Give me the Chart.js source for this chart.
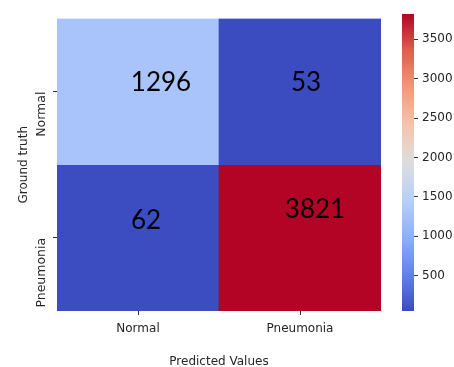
<!DOCTYPE html>
<html>
<head>
<meta charset="utf-8">
<script src="https://cdn.jsdelivr.net/npm/chart.js"></script>
<style>
  html, body { margin: 0; padding: 0; background: #fff; }
  #wrap { position: relative; width: 454px; height: 367px; overflow: hidden; }
  #heat { position: absolute; left: 0; top: 0; }
  #cbar { position: absolute; left: 390px; top: 0; }
</style>
</head>
<body>
<div id="wrap">
  <canvas id="heat" width="390" height="367"></canvas>
  <canvas id="cbar" width="64" height="367"></canvas>
</div>
<script>
// confusion matrix: rows = ground truth, columns = predicted
var classes = ['Normal', 'Pneumonia'];
var rowNormal = [1296, 53];
var rowPneumonia = [62, 3821];
var colorbarTicks = [500, 1000, 1500, 2000, 2500, 3000, 3500];

var rows = [rowNormal, rowPneumonia];
var vmin = Math.min.apply(null, rowNormal.concat(rowPneumonia));
var vmax = Math.max.apply(null, rowNormal.concat(rowPneumonia));

// coolwarm colormap, sampled stops
var COOLWARM = [
  [0.000, [59, 76, 192]],
  [0.125, [98, 130, 234]],
  [0.250, [141, 176, 254]],
  [0.375, [184, 208, 249]],
  [0.500, [221, 221, 221]],
  [0.625, [245, 196, 173]],
  [0.750, [244, 154, 123]],
  [0.875, [222, 96, 77]],
  [1.000, [180, 4, 38]]
];

function rgb(c) { return 'rgb(' + c.map(Math.round).join(',') + ')'; }

function coolwarm(t) {
  t = Math.max(0, Math.min(1, t));
  for (var i = 1; i < COOLWARM.length; i++) {
    if (t <= COOLWARM[i][0]) {
      var a = COOLWARM[i - 1], b = COOLWARM[i];
      var f = (t - a[0]) / (b[0] - a[0]);
      return rgb([0, 1, 2].map(function(k) { return a[1][k] + (b[1][k] - a[1][k]) * f; }));
    }
  }
  return rgb(COOLWARM[COOLWARM.length - 1][1]);
}

function colorFor(v) { return coolwarm((v - vmin) / (vmax - vmin)); }

var TICK_COLOR = '#333';
var TEXT_COLOR = '#262626';
var tickFont = { family: 'DejaVu Sans', size: 12 };

// each row is a dataset of floating bars spanning [row, row + 1] on a reversed y axis
var datasets = rows.map(function(vals, r) {
  return {
    label: classes[r],
    data: vals.map(function() { return [r, r + 1]; }),
    values: vals,
    backgroundColor: vals.map(colorFor),
    borderWidth: 0,
    barPercentage: 1,
    categoryPercentage: 1,
    grouped: false
  };
});

// writes the count in each cell
var cellLabels = {
  id: 'cellLabels',
  afterDatasetsDraw: function(chart, args, opts) {
    var ctx = chart.ctx;
    ctx.save();
    ctx.font = opts.font;
    ctx.fillStyle = opts.color;
    ctx.textAlign = 'center';
    ctx.textBaseline = 'middle';
    chart.data.datasets.forEach(function(ds, r) {
      chart.getDatasetMeta(r).data.forEach(function(bar, c) {
        var shift = opts.shift[r][c];
        var cy = (bar.y + bar.base) / 2;
        ctx.fillText(String(ds.values[c]), bar.x + shift[0], cy + shift[1]);
      });
    });
    ctx.restore();
  }
};

new Chart(document.getElementById('heat'), {
  type: 'bar',
  data: { labels: classes, datasets: datasets },
  plugins: [cellLabels],
  options: {
    responsive: false,
    animation: false,
    layout: { padding: { left: 17, top: 14, right: 9, bottom: 0 } },
    plugins: {
      legend: { display: false },
      tooltip: { enabled: false },
      cellLabels: {
        font: '26px Lato',
        color: '#000',
        shift: [[[23, -9], [6, -9]], [[8, -17], [15, -28]]]
      }
    },
    scales: {
      x: {
        type: 'category',
        offset: true,
        afterFit: function(s) { s.height = 56; },
        grid: { offset: false, drawOnChartArea: false, drawTicks: true, tickLength: 4, tickColor: TICK_COLOR, tickWidth: 1 },
        border: { display: false },
        ticks: { color: TEXT_COLOR, font: tickFont, padding: 7, maxRotation: 0 },
        title: { display: true, text: 'Predicted Values', color: TEXT_COLOR, font: { family: 'DejaVu Sans', size: 12, lineHeight: 0.8 }, padding: 0 }
      },
      y: {
        type: 'linear',
        min: 0,
        max: 2,
        reverse: true,
        afterFit: function(s) { s.width = 40; },
        afterBuildTicks: function(s) { s.ticks = [{ value: 0.5 }, { value: 1.5 }]; },
        grid: { drawOnChartArea: false, drawTicks: true, tickLength: 4, tickColor: TICK_COLOR, tickWidth: 1 },
        border: { display: false },
        ticks: {
          color: TEXT_COLOR,
          font: { family: 'DejaVu Sans', size: 12.5 },
          padding: 11,
          minRotation: 90,
          maxRotation: 90,
          callback: function(v) { return classes[Math.floor(v)]; }
        },
        title: { display: true, text: 'Ground truth', color: TEXT_COLOR, font: { family: 'DejaVu Sans', size: 12, lineHeight: 1 }, padding: { top: 1 } }
      }
    }
  }
});

// colour bar: one floating bar from vmin to vmax filled with the colormap
new Chart(document.getElementById('cbar'), {
  type: 'bar',
  data: {
    labels: [''],
    datasets: [{
      data: [[vmin, vmax]],
      borderWidth: 0,
      barPercentage: 1,
      categoryPercentage: 1,
      backgroundColor: function(context) {
        var chart = context.chart;
        var ys = chart.scales.y;
        if (!ys || !chart.chartArea) return rgb(COOLWARM[0][1]);
        var y0 = ys.getPixelForValue(vmin), y1 = ys.getPixelForValue(vmax);
        var g = chart.ctx.createLinearGradient(0, y0, 0, y1);
        COOLWARM.forEach(function(s) { g.addColorStop(s[0], rgb(s[1])); });
        return g;
      }
    }]
  },
  options: {
    responsive: false,
    animation: false,
    layout: { padding: { left: 12, top: 14, right: 0, bottom: 56 } },
    plugins: { legend: { display: false }, tooltip: { enabled: false } },
    scales: {
      x: { display: false, offset: true },
      y: {
        position: 'right',
        min: vmin,
        max: vmax,
        afterFit: function(s) { s.width = 40; },
        afterBuildTicks: function(s) { s.ticks = colorbarTicks.map(function(v) { return { value: v }; }); },
        grid: { drawOnChartArea: false, drawTicks: true, tickLength: 4, tickColor: TICK_COLOR, tickWidth: 1 },
        border: { display: false },
        ticks: { color: TEXT_COLOR, font: tickFont, padding: 4, callback: function(v) { return String(v); } }
      }
    }
  }
});
</script>
</body>
</html>
